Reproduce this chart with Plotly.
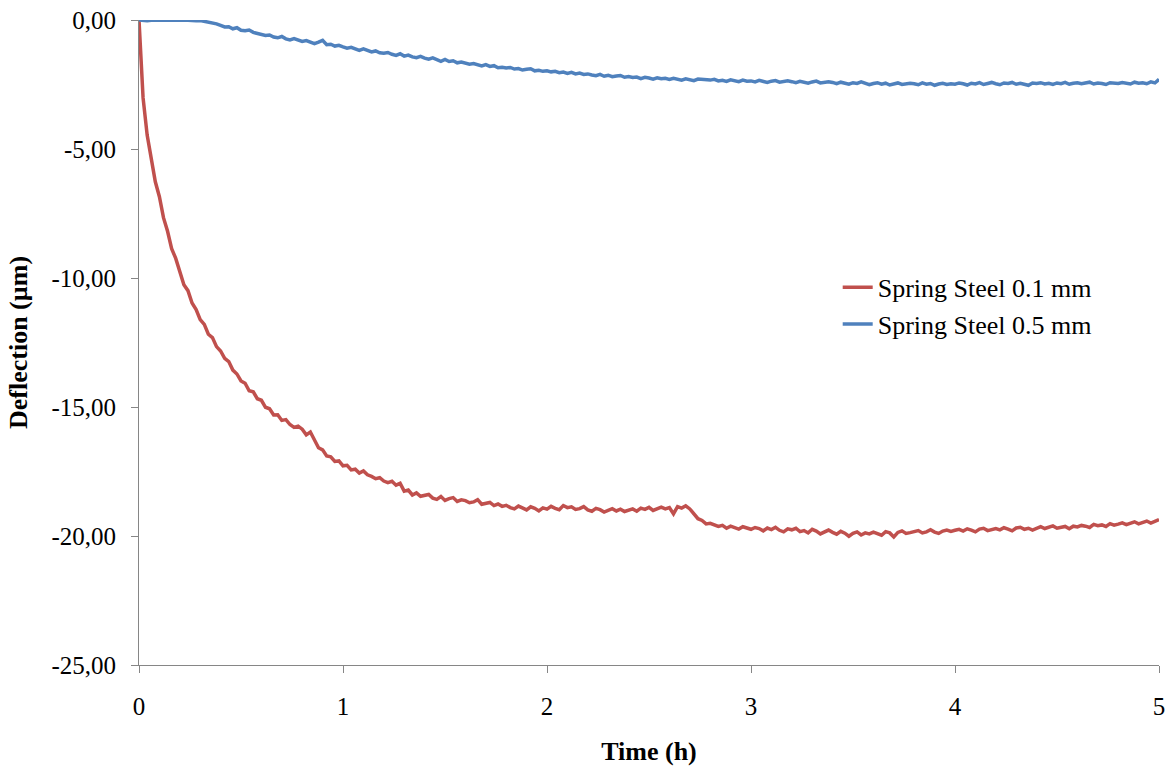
import numpy as np
import plotly.graph_objects as go

# Sampling times (h), every 0.02 h from 0 to 5
time_h = np.round(np.arange(0, 251) * 0.02, 2)

# Deflection (µm)
steel_01mm = [
    0.00, -3.02, -4.46, -5.33, -6.27, -6.85, -7.66, -8.19, -8.86, -9.24,
    -9.78, -10.26, -10.49, -10.97, -11.22, -11.61, -11.80, -12.18, -12.31, -12.66,
    -12.83, -13.11, -13.24, -13.57, -13.72, -13.99, -14.08, -14.37, -14.41, -14.68,
    -14.74, -15.01, -15.07, -15.31, -15.30, -15.52, -15.49, -15.68, -15.79, -15.74,
    -15.86, -16.08, -15.97, -16.29, -16.58, -16.66, -16.90, -16.93, -17.11, -17.09,
    -17.28, -17.26, -17.44, -17.41, -17.56, -17.48, -17.63, -17.69, -17.78, -17.74,
    -17.87, -17.93, -17.88, -18.03, -17.96, -18.26, -18.22, -18.41, -18.33, -18.46,
    -18.44, -18.39, -18.53, -18.58, -18.47, -18.62, -18.55, -18.51, -18.66, -18.60,
    -18.63, -18.71, -18.68, -18.59, -18.77, -18.74, -18.70, -18.82, -18.76, -18.85,
    -18.81, -18.90, -18.95, -18.84, -18.92, -18.99, -18.87, -18.93, -19.03, -18.91,
    -18.96, -18.85, -18.93, -18.98, -18.82, -18.90, -18.87, -18.97, -18.94, -18.86,
    -18.99, -19.04, -18.93, -18.98, -19.07, -19.01, -18.94, -19.03, -18.96, -19.05,
    -19.00, -18.95, -19.04, -18.92, -18.97, -18.89, -19.01, -18.93, -18.88, -18.95,
    -18.90, -19.14, -18.86, -18.92, -18.83, -18.95, -19.15, -19.33, -19.40, -19.53,
    -19.51, -19.57, -19.63, -19.59, -19.70, -19.62, -19.66, -19.73, -19.64, -19.69,
    -19.74, -19.67, -19.71, -19.80, -19.69, -19.75, -19.66, -19.78, -19.84, -19.72,
    -19.76, -19.70, -19.83, -19.79, -19.88, -19.74, -19.81, -19.92, -19.85, -19.77,
    -19.86, -19.93, -19.82, -19.89, -20.01, -19.90, -19.84, -19.96, -19.88, -19.92,
    -19.85, -19.91, -19.97, -19.83, -19.88, -20.04, -19.86, -19.80, -19.90, -19.87,
    -19.83, -19.79, -19.88, -19.84, -19.76, -19.85, -19.90, -19.81, -19.77, -19.82,
    -19.78, -19.74, -19.81, -19.72, -19.77, -19.84, -19.73, -19.70, -19.79, -19.75,
    -19.71, -19.76, -19.68, -19.73, -19.80, -19.69, -19.66, -19.74, -19.70, -19.77,
    -19.69, -19.64, -19.71, -19.66, -19.61, -19.70, -19.67, -19.63, -19.72, -19.62,
    -19.65, -19.59, -19.62, -19.67, -19.55, -19.60, -19.57, -19.63, -19.52, -19.58,
    -19.54, -19.49, -19.56, -19.51, -19.45, -19.53, -19.47, -19.42, -19.50, -19.44,
    -19.36,
]

steel_05mm = [
    0.00, -0.02, -0.03, -0.01, 0.00, -0.02, -0.01, 0.00, -0.01, -0.02,
    -0.01, 0.00, -0.02, -0.01, -0.03, -0.02, -0.05, -0.08, -0.12, -0.15,
    -0.21, -0.27, -0.26, -0.34, -0.30, -0.40, -0.42, -0.39, -0.48, -0.51,
    -0.55, -0.60, -0.58, -0.66, -0.69, -0.64, -0.73, -0.77, -0.72, -0.79,
    -0.83, -0.80, -0.87, -0.92, -0.86, -0.79, -0.96, -0.94, -1.01, -0.98,
    -1.04, -1.09, -1.06, -1.13, -1.18, -1.12, -1.19, -1.24, -1.20, -1.27,
    -1.29, -1.26, -1.33, -1.37, -1.31, -1.40, -1.36, -1.43, -1.46, -1.41,
    -1.48, -1.52, -1.47, -1.55, -1.60, -1.53, -1.61, -1.58, -1.66, -1.63,
    -1.66, -1.71, -1.69, -1.74, -1.78, -1.73, -1.80, -1.77, -1.85, -1.83,
    -1.86, -1.84, -1.90, -1.88, -1.94, -1.91, -1.89, -1.97, -1.95, -1.99,
    -1.97, -2.01, -1.99, -2.04, -2.02, -2.07, -2.03, -2.09, -2.06, -2.11,
    -2.09, -2.13, -2.16, -2.11, -2.18, -2.14, -2.20, -2.17, -2.15, -2.22,
    -2.19, -2.23, -2.21, -2.27, -2.22, -2.25, -2.29, -2.24, -2.28, -2.26,
    -2.30, -2.26, -2.29, -2.33, -2.28, -2.32, -2.35, -2.29, -2.31, -2.34,
    -2.33, -2.30, -2.36, -2.34, -2.38, -2.32, -2.35, -2.39, -2.33, -2.37,
    -2.36, -2.40, -2.34, -2.38, -2.42, -2.37, -2.35, -2.41, -2.39, -2.36,
    -2.39, -2.43, -2.38, -2.41, -2.45, -2.40, -2.37, -2.44, -2.42, -2.39,
    -2.42, -2.47, -2.41, -2.44, -2.49, -2.43, -2.46, -2.40, -2.45, -2.51,
    -2.46, -2.43, -2.49, -2.45, -2.52, -2.47, -2.44, -2.50, -2.48, -2.45,
    -2.47, -2.51, -2.44, -2.49, -2.46, -2.53, -2.48, -2.45, -2.50, -2.47,
    -2.49, -2.44, -2.47, -2.52, -2.45, -2.48, -2.43, -2.50, -2.46, -2.42,
    -2.47, -2.51, -2.44, -2.46, -2.42, -2.49, -2.45, -2.48, -2.53, -2.44,
    -2.46, -2.43, -2.48, -2.45, -2.50, -2.44, -2.47, -2.42, -2.49, -2.45,
    -2.43, -2.47, -2.45, -2.41, -2.48, -2.44, -2.46, -2.50, -2.43, -2.45,
    -2.46, -2.42, -2.44, -2.48, -2.41, -2.45, -2.43, -2.47, -2.40, -2.44,
    -2.30,
]

series_names = ["Spring Steel 0.1 mm", "Spring Steel 0.5 mm"]
x_ticks = [0, 1, 2, 3, 4, 5]
y_ticks = [0, -5, -10, -15, -20, -25]
y_tick_labels = ["0,00", "-5,00", "-10,00", "-15,00", "-20,00", "-25,00"]

FONT = "Liberation Serif, Times New Roman, serif"
AXIS_GREY = "#868686"

fig = go.Figure()
fig.add_trace(go.Scatter(x=time_h, y=steel_01mm, mode="lines", name=series_names[0],
                         line=dict(color="#C0504D", width=3.5)))
fig.add_trace(go.Scatter(x=time_h, y=steel_05mm, mode="lines", name=series_names[1],
                         line=dict(color="#4F81BD", width=3.5)))

fig.update_layout(
    width=1170, height=768,
    margin=dict(l=139, r=11, t=20, b=103, autoexpand=False),
    paper_bgcolor="white", plot_bgcolor="white",
    font=dict(family=FONT, size=25, color="black"),
    showlegend=True,
    legend=dict(x=0.685, y=0.622, xanchor="left", yanchor="top",
                font=dict(family=FONT, size=26, color="black"),
                bgcolor="rgba(0,0,0,0)", tracegroupgap=0, itemwidth=30),
    xaxis=dict(range=[0, 5], tickvals=x_ticks, ticktext=[str(v) for v in x_ticks],
               showgrid=False, zeroline=False, showline=True, linecolor=AXIS_GREY, linewidth=1,
               ticks="outside", ticklen=7, tickcolor=AXIS_GREY, tickwidth=1,
               ticklabelstandoff=12,
               tickfont=dict(family=FONT, size=25, color="black"),
               title=dict(text="<b>Time (h)</b>", font=dict(family=FONT, size=26, color="black"),
                          standoff=22)),
    yaxis=dict(range=[-25, 0], tickvals=y_ticks, ticktext=y_tick_labels,
               showgrid=False, zeroline=False, showline=True, linecolor=AXIS_GREY, linewidth=1,
               ticks="outside", ticklen=7, tickcolor=AXIS_GREY, tickwidth=1,
               ticklabelstandoff=10,
               tickfont=dict(family=FONT, size=25, color="black"),
               title=dict(text="<b>Deflection (µm)</b>", font=dict(family=FONT, size=26, color="black"),
                          standoff=16)),
)

fig.write_html("out.html")
